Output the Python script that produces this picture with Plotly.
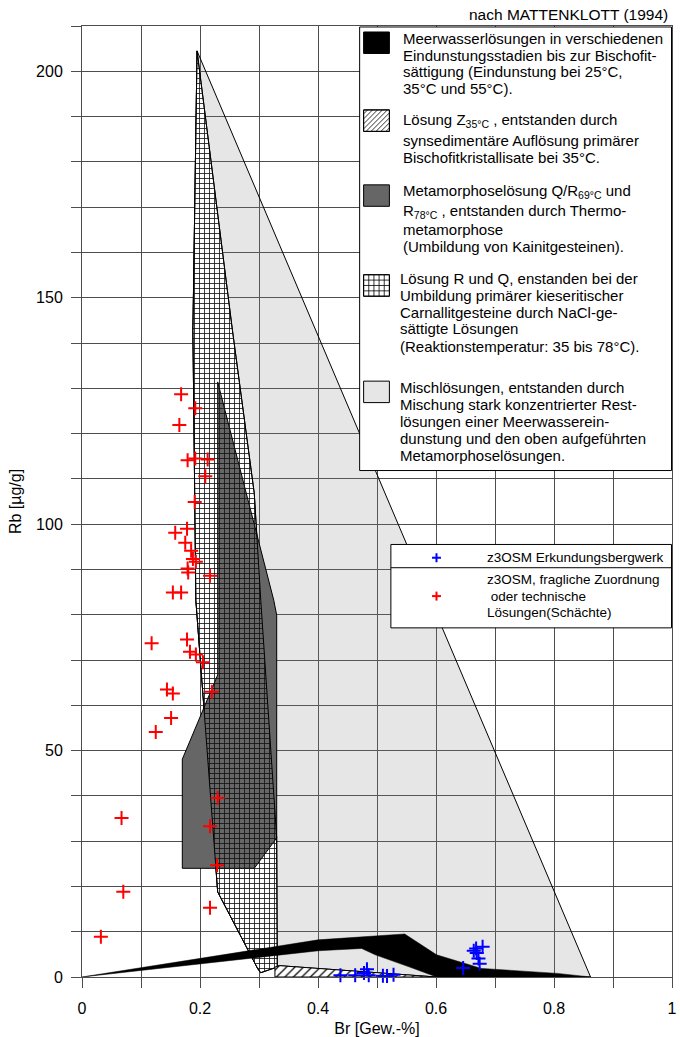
import plotly.graph_objects as go

FONT = "Liberation Sans, Arial, sans-serif"
GRID = "#4d4d4d"

# ---------------- data ----------------
# Mischlösungen (light grey field)
mix_x = [0.195, 0.862, 0.601, 0.335, 0.327, 0.303, 0.298, 0.230, 0.216, 0.207, 0.193, 0.188]
mix_y = [204.5, 0.0, 0.0, 2.5, 2.2, 0.95, 1.8, 18.8, 43.5, 59.0, 83.2, 142.8]
# Lösung R und Q (cross-hatched field)
rq_x = [0.195, 0.255, 0.292, 0.303, 0.330, 0.331, 0.303, 0.298, 0.230, 0.216, 0.207, 0.193, 0.188]
rq_y = [204.5, 142.8, 106.8, 83.2, 30.7, 2.2, 0.95, 1.8, 18.8, 43.5, 59.0, 83.2, 142.8]
# Metamorphoselösung (dark grey field)
meta_x = [0.230, 0.325, 0.330, 0.330, 0.292, 0.170, 0.170, 0.230]
meta_y = [131.4, 83.2, 79.9, 30.7, 24.0, 24.0, 48.1, 66.7]
# Meerwasserlösungen (black field)
sea_x = [0.0, 0.40, 0.547, 0.601, 0.677, 0.806, 0.862, 0.601, 0.553, 0.497, 0.474, 0.401]
sea_y = [0.0, 8.2, 9.5, 4.9, 1.9, 0.8, 0.0, 0.0, 2.3, 4.9, 6.3, 5.8]
# Lösung Z35°C (hatched field)
z_x = [0.327, 0.327, 0.335, 0.601]
z_y = [0.0, 2.2, 2.5, 0.0]

# z3OSM Erkundungsbergwerk (blue)
blue_br = [0.438, 0.463, 0.478, 0.483, 0.486, 0.510, 0.517, 0.528, 0.646, 0.664, 0.668, 0.669, 0.679, 0.672, 0.674]
blue_rb = [0.4, 0.4, 0.9, 1.7, 0.4, 0.3, 0.2, 0.5, 2.0, 5.8, 6.3, 5.3, 6.7, 4.1, 2.9]
# z3OSM, fragliche Zuordnung (red)
red_br = [0.168, 0.192, 0.165, 0.179, 0.192, 0.213, 0.209, 0.191, 0.178, 0.158, 0.175, 0.185,
          0.188, 0.193, 0.179, 0.180, 0.217, 0.154, 0.168, 0.118, 0.178, 0.183, 0.193, 0.205,
          0.144, 0.154, 0.220, 0.151, 0.125, 0.230, 0.217, 0.229, 0.067, 0.070, 0.032, 0.217]
red_rb = [128.7, 125.6, 121.9, 114.1, 114.5, 114.3, 110.6, 104.9, 99.0, 98.1, 95.9, 94.1,
          92.3, 91.7, 90.2, 89.3, 88.6, 84.9, 84.9, 73.7, 74.5, 71.8, 71.2, 69.5,
          63.5, 62.6, 63.0, 57.2, 54.1, 39.5, 33.3, 24.7, 35.1, 18.8, 8.9, 15.3]

legend_blocks = [
    ["Meerwasserlösungen in verschiedenen", "Eindunstungsstadien bis zur Bischofit-",
     "sättigung (Eindunstung bei 25°C,", "35°C und 55°C)."],
    ["Lösung Z<sub>35°C</sub> , entstanden durch", "synsedimentäre Auflösung primärer",
     "Bischofitkristallisate bei 35°C."],
    ["Metamorphoselösung Q/R<sub>69°C</sub> und", "R<sub>78°C</sub> , entstanden durch Thermo-",
     "metamorphose", "(Umbildung von Kainitgesteinen)."],
    ["Lösung R und Q, enstanden bei der", "Umbildung primärer kieseritischer",
     "Carnallitgesteine durch NaCl-ge-", "sättigte Lösungen", "(Reaktionstemperatur: 35 bis 78°C)."],
    ["Mischlösungen, entstanden durch", "Mischung stark konzentrierter Rest-",
     "lösungen einer Meerwasserein-", "dunstung und den oben aufgeführten", "Metamorphoselösungen."],
]
marker_legend = [
    ["z3OSM Erkundungsbergwerk"],
    ["z3OSM, fragliche Zuordnung", "\u00a0oder technische", "Lösungen(Schächte)"],
]

# ---------------- layout helpers ----------------
# The page body margin is removed (post_script), so window pixels == figure pixels.
W, H = 680, 1037
PLOT_L, PLOT_R, PLOT_T, PLOT_B = 82, 677, 26, 978
ML, MR, MT, MB = PLOT_L, W - PLOT_R, PLOT_T, H - PLOT_B
PW, PH = PLOT_R - PLOT_L, PLOT_B - PLOT_T


def px(x):
    return (x - PLOT_L) / PW


def py(y):
    return (PLOT_B - y) / PH


def closed(xs, ys):
    return xs + xs[:1], ys + ys[:1]


fig = go.Figure()

x, y = closed(mix_x, mix_y)
fig.add_trace(go.Scatter(x=x, y=y, mode="lines", fill="toself",
                         fillcolor="rgba(128,128,128,0.2)",
                         line=dict(color="black", width=1), hoverinfo="skip"))
x, y = closed(rq_x, rq_y)
fig.add_trace(go.Scatter(x=x, y=y, mode="lines", fill="toself", fillcolor="white",
                         line=dict(color="black", width=1), hoverinfo="skip"))
x, y = closed(meta_x, meta_y)
fig.add_trace(go.Scatter(x=x, y=y, mode="lines", fill="toself", fillcolor="#666666",
                         line=dict(color="black", width=1), hoverinfo="skip"))
x, y = closed(rq_x, rq_y)
fig.add_trace(go.Scatter(x=x, y=y, mode="lines", fill="toself", fillcolor="rgba(0,0,0,0)",
                         fillpattern=dict(shape="+", size=5, solidity=0.3, fgcolor="#111111",
                                          bgcolor="rgba(0,0,0,0)", fillmode="replace"),
                         line=dict(color="black", width=1), hoverinfo="skip"))
x, y = closed(sea_x, sea_y)
fig.add_trace(go.Scatter(x=x, y=y, mode="lines", fill="toself", fillcolor="black",
                         line=dict(color="black", width=0.5), hoverinfo="skip"))
x, y = closed(z_x, z_y)
fig.add_trace(go.Scatter(x=x, y=y, mode="lines", fill="toself", fillcolor="white",
                         fillpattern=dict(shape="/", size=6, solidity=0.2, fgcolor="black",
                                          bgcolor="white", fillmode="replace"),
                         line=dict(color="black", width=1), hoverinfo="skip"))

fig.add_trace(go.Scatter(x=red_br, y=red_rb, mode="markers", cliponaxis=False,
                         marker=dict(symbol="cross-thin", size=10,
                                     line=dict(color="#ff0000", width=2))))
fig.add_trace(go.Scatter(x=blue_br, y=blue_rb, mode="markers", cliponaxis=False,
                         marker=dict(symbol="cross-thin", size=10,
                                     line=dict(color="#0000ff", width=2))))

shapes = []
annots = []


def rect(x0, y0, x1, y1, fill, lw=1):
    shapes.append(dict(type="rect", xref="paper", yref="paper",
                       x0=px(x0), x1=px(x1), y0=py(y1), y1=py(y0),
                       fillcolor=fill, line=dict(color="black", width=lw), layer="above"))


def seg(x0, y0, x1, y1, color="black", w=1):
    shapes.append(dict(type="line", xref="paper", yref="paper",
                       x0=px(x0), x1=px(x1), y0=py(y0), y1=py(y1),
                       line=dict(color=color, width=w), layer="above"))


# big legend box
rect(362, 27, 676.5, 471, "white")
SWX0, SWX1 = 366, 392
sw_tops = [32, 110, 185, 275, 381.5]
SWH = 21.5
rect(SWX0, sw_tops[0], SWX1, sw_tops[0] + SWH, "black")
# hatched swatch
a, b, c, d = SWX0, SWX1, sw_tops[1], sw_tops[1] + SWH
rect(a, c, b, d, "white")
k = a + c + 4
while k < b + d:
    xs0 = max(a, k - d)
    xs1 = min(b, k - c)
    if xs1 > xs0:
        seg(xs0, k - xs0, xs1, k - xs1, w=0.8)
    k += 5
rect(a, c, b, d, "rgba(0,0,0,0)")
rect(SWX0, sw_tops[2], SWX1, sw_tops[2] + SWH, "#666666")
# cross-hatched swatch
a, b, c, d = SWX0, SWX1, sw_tops[3], sw_tops[3] + SWH
rect(a, c, b, d, "white")
step = (b - a) / 5
for i in range(1, 5):
    seg(a + i * step, c, a + i * step, d, w=0.8)
step_y = (d - c) / 4
for i in range(1, 4):
    seg(a, c + i * step_y, b, c + i * step_y, w=0.8)
rect(a, c, b, d, "rgba(0,0,0,0)")
rect(SWX0, sw_tops[4], SWX1, sw_tops[4] + SWH, "#e6e6e6")

line_y = [[38.5, 55.5, 72, 88.5], [121, 141, 158], [192, 212, 230, 247],
          [279, 296, 312.5, 329, 346.5], [388, 405, 422, 439, 456]]
text_x = [404, 404, 404, 401, 401]
for blk, ys, tx in zip(legend_blocks, line_y, text_x):
    for t, yy in zip(blk, ys):
        annots.append(dict(text=t, x=px(tx), y=py(yy), xref="paper", yref="paper",
                           xanchor="left", yanchor="middle", showarrow=False,
                           font=dict(size=15, family=FONT, color="black")))

# marker legend box
rect(393.5, 545, 676.5, 628.5, "white")
seg(393.5, 568.3, 676.5, 568.3)
for cy, col in [(558.3, "#0000ff"), (596.7, "#ff0000")]:
    seg(435, cy, 444, cy, color=col, w=2)
    seg(439.5, cy - 4.5, 439.5, cy + 4.5, color=col, w=2)
for blk, ys in zip(marker_legend, [[558.3], [580, 596.7, 613.3]]):
    for t, yy in zip(blk, ys):
        annots.append(dict(text=t, x=px(488.3), y=py(yy), xref="paper", yref="paper",
                           xanchor="left", yanchor="middle", showarrow=False,
                           font=dict(size=13.5, family=FONT, color="black")))

annots.append(dict(text="nach MATTENKLOTT (1994)", x=px(675), y=py(14.5), xref="paper",
                   yref="paper", xanchor="right", yanchor="middle", showarrow=False,
                   font=dict(size=15.5, family=FONT, color="black")))

fig.update_layout(
    width=W, height=H, margin=dict(l=ML, r=MR, t=MT, b=MB),
    plot_bgcolor="white", paper_bgcolor="white", showlegend=False,
    font=dict(family=FONT, size=16, color="black"),
    shapes=shapes, annotations=annots,
)
axis_common = dict(ticks="outside", ticklen=10, tickwidth=1, tickcolor=GRID,
                   showgrid=True, gridcolor=GRID, gridwidth=1, zeroline=False,
                   showline=True, linecolor=GRID, linewidth=1, mirror=True,
                   ticklabeloverflow="allow",
                   tickfont=dict(size=16, family=FONT, color="black"))
fig.update_xaxes(range=[0, 1], tick0=0, dtick=0.2, ticklabelstandoff=7,
                 minor=dict(tick0=0, dtick=0.1, ticks="outside", ticklen=10, tickcolor=GRID,
                            showgrid=True, gridcolor=GRID, gridwidth=1),
                 title=dict(text="Br [Gew.-%]", font=dict(size=16, family=FONT), standoff=6),
                 **axis_common)
fig.update_yaxes(range=[0, 210], tick0=0, dtick=50, ticklabelstandoff=5,
                 minor=dict(tick0=0, dtick=10, ticks="outside", ticklen=10, tickcolor=GRID,
                            showgrid=True, gridcolor=GRID, gridwidth=1),
                 title=dict(text="Rb [µg/g]", font=dict(size=16, family=FONT), standoff=10),
                 **axis_common)

fig.write_html("out.html", config={"displayModeBar": False},
               post_script="document.body.style.margin='0';document.body.style.overflow='hidden';")
